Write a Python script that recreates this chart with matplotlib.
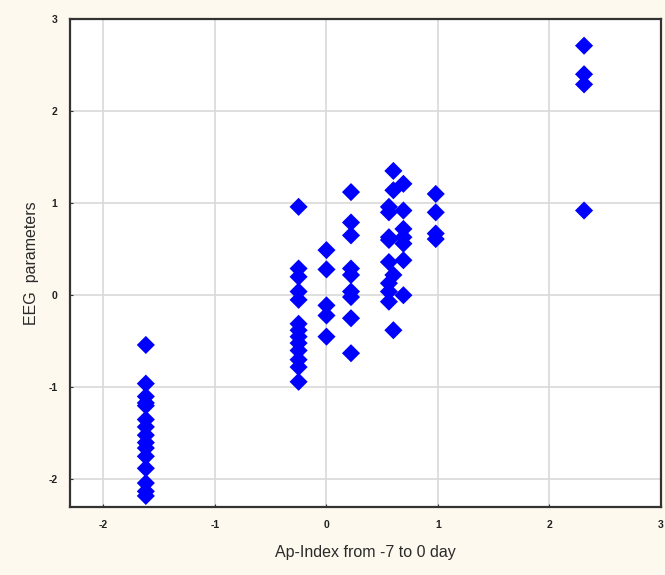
import matplotlib
matplotlib.use("Agg")
import matplotlib.pyplot as plt

# Data (x = Ap-Index group, y = EEG parameter)
x_m162 = -1.62
y_m162 = [-0.54, -0.96, -1.10, -1.17, -1.20, -1.35, -1.43, -1.52, -1.60, -1.66,
          -1.75, -1.88, -2.04, -2.13, -2.18]
x_m025 = -0.25
y_m025 = [0.96, 0.29, 0.20, 0.04, -0.05, -0.31, -0.38, -0.45, -0.52, -0.60,
          -0.70, -0.78, -0.94]
x_000 = 0.0
y_000 = [0.49, 0.28, -0.11, -0.22, -0.45]
x_022 = 0.22
y_022 = [1.12, 0.79, 0.65, 0.29, 0.22, 0.04, -0.02, -0.25, -0.63]
x_056 = 0.56
y_056 = [0.96, 0.90, 0.63, 0.60, 0.36, 0.13, 0.04, -0.07]
x_060 = 0.60
y_060 = [1.35, 1.14, 0.22, -0.38]
x_069 = 0.69
y_069 = [1.21, 0.92, 0.72, 0.63, 0.56, 0.38, 0.00]
x_098 = 0.98
y_098 = [1.10, 0.90, 0.67, 0.61]
x_231 = 2.31
y_231 = [2.71, 2.40, 2.29, 0.92]

groups = [(x_m162, y_m162), (x_m025, y_m025), (x_000, y_000), (x_022, y_022),
          (x_056, y_056), (x_060, y_060), (x_069, y_069), (x_098, y_098),
          (x_231, y_231)]

xticks = [-2, -1, 0, 1, 2, 3]
yticks = [-2, -1, 0, 1, 2, 3]

bg = "#fef9ee"
plt.rcParams['font.family'] = ['Liberation Sans', 'DejaVu Sans']
fig = plt.figure(figsize=(6.65, 5.75), dpi=100, facecolor=bg)
ax = fig.add_axes([70/665, 68/575, 591/665, 488/575])
ax.set_facecolor("white")

xs, ys = [], []
for gx, gy in groups:
    xs += [gx] * len(gy)
    ys += gy
ax.scatter(xs, ys, marker="D", s=85, color="#0000ff", edgecolors="none", zorder=3)

ax.set_xlim(-2.3, 3.0)
ax.set_ylim(-2.3, 3.0)
ax.set_xticks(xticks)
ax.set_yticks(yticks)
ax.set_xticklabels([str(t) for t in xticks], fontsize=7.5, fontweight="bold", color="#222222")
ax.set_yticklabels([str(t) for t in yticks], fontsize=7.5, fontweight="bold", color="#222222")
ax.grid(True, color="#d9d9d9", linewidth=1.2, zorder=0)
ax.set_axisbelow(True)
ax.tick_params(direction="in", length=2, width=0.8, color="#333333", pad=9)
for s in ax.spines.values():
    s.set_color("#333333")
    s.set_linewidth(1.6)

ax.set_xlabel("Ap-Index from -7 to 0 day", fontsize=11.5, color="#2a2a2a")
ax.set_ylabel("EEG  parameters", fontsize=11.5, color="#2a2a2a")
ax.xaxis.set_label_coords(0.499, -0.078)
ax.yaxis.set_label_coords(-0.052, 0.5)

fig.savefig("out.png", dpi=100, facecolor=bg)
